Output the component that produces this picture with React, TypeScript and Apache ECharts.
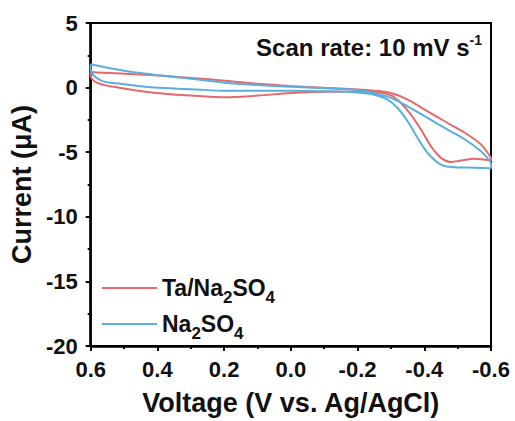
import React, { useEffect, useRef } from "react";
import * as echarts from "echarts";

// Ta/Na2SO4 loop: forward (upper) branch 0.6 -> -0.6 then reverse (lower) branch -0.6 -> 0.6
const taUpper: [number, number][] = [
  [0.6, 1.2], [0.58, 1.16], [0.5, 1.08], [0.41, 0.95], [0.3, 0.75], [0.19, 0.52],
  [0.1, 0.3], [0.0, 0.12], [-0.1, -0.02], [-0.2, -0.14], [-0.25, -0.24], [-0.3, -0.42],
  [-0.35, -0.93], [-0.41, -1.84], [-0.47, -2.74], [-0.53, -3.64], [-0.57, -4.4],
  [-0.594, -5.2], [-0.6, -5.5],
];
const taLower: [number, number][] = [
  [-0.6, -5.65], [-0.55, -5.5], [-0.51, -5.65], [-0.48, -5.75], [-0.45, -5.44],
  [-0.42, -4.54], [-0.39, -3.25], [-0.36, -2.09], [-0.33, -1.19], [-0.3, -0.6],
  [-0.25, -0.32], [-0.2, -0.3], [-0.1, -0.32], [0.0, -0.42], [0.1, -0.62], [0.2, -0.75],
  [0.3, -0.62], [0.41, -0.4], [0.51, -0.03], [0.58, 0.36], [0.6, 0.92], [0.6, 1.2],
];

// Na2SO4 loop
const naUpper: [number, number][] = [
  [0.6, 1.8], [0.5, 1.3], [0.41, 1.0], [0.3, 0.68], [0.19, 0.36], [0.1, 0.2],
  [0.0, 0.06], [-0.1, -0.05], [-0.15, -0.1], [-0.2, -0.2], [-0.25, -0.42], [-0.3, -0.8],
  [-0.35, -1.45], [-0.41, -2.35], [-0.47, -3.25], [-0.53, -4.15], [-0.57, -4.93],
  [-0.594, -5.6], [-0.6, -5.9],
];
const naLower: [number, number][] = [
  [-0.6, -6.25], [-0.55, -6.2], [-0.49, -6.16], [-0.45, -5.96], [-0.41, -5.06],
  [-0.38, -3.9], [-0.35, -2.6], [-0.32, -1.58], [-0.29, -0.93], [-0.25, -0.55],
  [-0.2, -0.38], [-0.1, -0.28], [0.0, -0.25], [0.1, -0.25], [0.19, -0.25], [0.3, -0.12],
  [0.41, 0.0], [0.51, 0.3], [0.57, 0.56], [0.6, 1.39], [0.6, 1.8],
];

const seriesNames = ["Ta/Na2SO4", "Na2SO4"];
const seriesColors = ["#E26A6C", "#5AAEE0"];

const FONT = '"Liberation Sans", Arial, Helvetica, sans-serif';

export default function App() {
  const ref = useRef<HTMLDivElement>(null);

  useEffect(() => {
    if (!ref.current) return;
    const chart = echarts.init(ref.current, undefined, { renderer: "svg" });
    const subRich = {
      sub: { fontSize: 17, fontWeight: "bold", fontFamily: FONT, color: "#111", verticalAlign: "bottom", lineHeight: 17 },
    };
    chart.setOption({
      animation: false,
      backgroundColor: "#fff",
      grid: {
        left: 88, right: 24, top: 23, bottom: 74,
        show: true, borderColor: "#000", borderWidth: 2, backgroundColor: "transparent",
      },
      xAxis: {
        type: "value", inverse: true, min: -0.6, max: 0.6, interval: 0.2,
        name: "Voltage (V vs. Ag/AgCl)", nameLocation: "middle", nameGap: 43,
        nameTextStyle: { fontSize: 27, fontWeight: "bold", fontFamily: FONT, color: "#111" },
        axisLine: { show: true, onZero: false, lineStyle: { color: "#000", width: 2.5 } },
        axisTick: { show: true, length: 5, lineStyle: { color: "#000", width: 2 } },
        minorTick: { show: true, splitNumber: 2, length: 3, lineStyle: { color: "#000", width: 2 } },
        splitLine: { show: false },
        axisLabel: {
          margin: 12, fontSize: 22, fontWeight: "bold", fontFamily: FONT, color: "#111",
          formatter: (v: number) => (Math.abs(v) < 1e-9 ? "0.0" : v.toFixed(1)),
        },
      },
      yAxis: {
        type: "value", min: -20, max: 5, interval: 5,
        name: "Current (\u03bcA)", nameLocation: "middle", nameGap: 50, nameRotate: 90,
        nameTextStyle: { fontSize: 27, fontWeight: "bold", fontFamily: FONT, color: "#111" },
        axisLine: { show: true, onZero: false, lineStyle: { color: "#000", width: 2.5 } },
        axisTick: { show: true, length: 5, lineStyle: { color: "#000", width: 2 } },
        minorTick: { show: true, splitNumber: 2, length: 3, lineStyle: { color: "#000", width: 2 } },
        splitLine: { show: false },
        axisLabel: { margin: 13, fontSize: 22, fontWeight: "bold", fontFamily: FONT, color: "#111" },
      },
      legend: {
        orient: "vertical", left: 97, top: 265, itemWidth: 55, itemHeight: 2, itemGap: 0,
        icon: "rect",
        data: seriesNames,
        formatter: (name: string) => name.replace("Na2SO4", "Na{sub|2}SO{sub|4}"),
        textStyle: { fontSize: 23, fontWeight: "bold", fontFamily: FONT, color: "#111", lineHeight: 36, rich: subRich },
      },
      graphic: [
        {
          type: "text", x: 482, y: 47,
          style: {
            text: "Scan rate: 10 mV s{sup|-1}",
            align: "right", verticalAlign: "middle",
            fontSize: 24, fontWeight: "bold", fontFamily: FONT, fill: "#111", lineHeight: 28,
            rich: {
              sup: { fontSize: 14, fontWeight: "bold", fontFamily: FONT, fill: "#111", verticalAlign: "top", lineHeight: 14 },
            },
          },
        },
      ],
      series: [
        {
          name: seriesNames[0], type: "line", data: [...taUpper, ...taLower],
          smooth: 0.35, symbol: "none", showSymbol: false,
          lineStyle: { color: seriesColors[0], width: 2 }, itemStyle: { color: seriesColors[0] },
        },
        {
          name: seriesNames[1], type: "line", data: [...naUpper, ...naLower],
          smooth: 0.35, symbol: "none", showSymbol: false,
          lineStyle: { color: seriesColors[1], width: 2 }, itemStyle: { color: seriesColors[1] },
        },
      ],
    });
    return () => chart.dispose();
  }, []);

  return <div ref={ref} style={{ position: "fixed", left: 0, top: 0, width: 515, height: 421 }} />;
}
